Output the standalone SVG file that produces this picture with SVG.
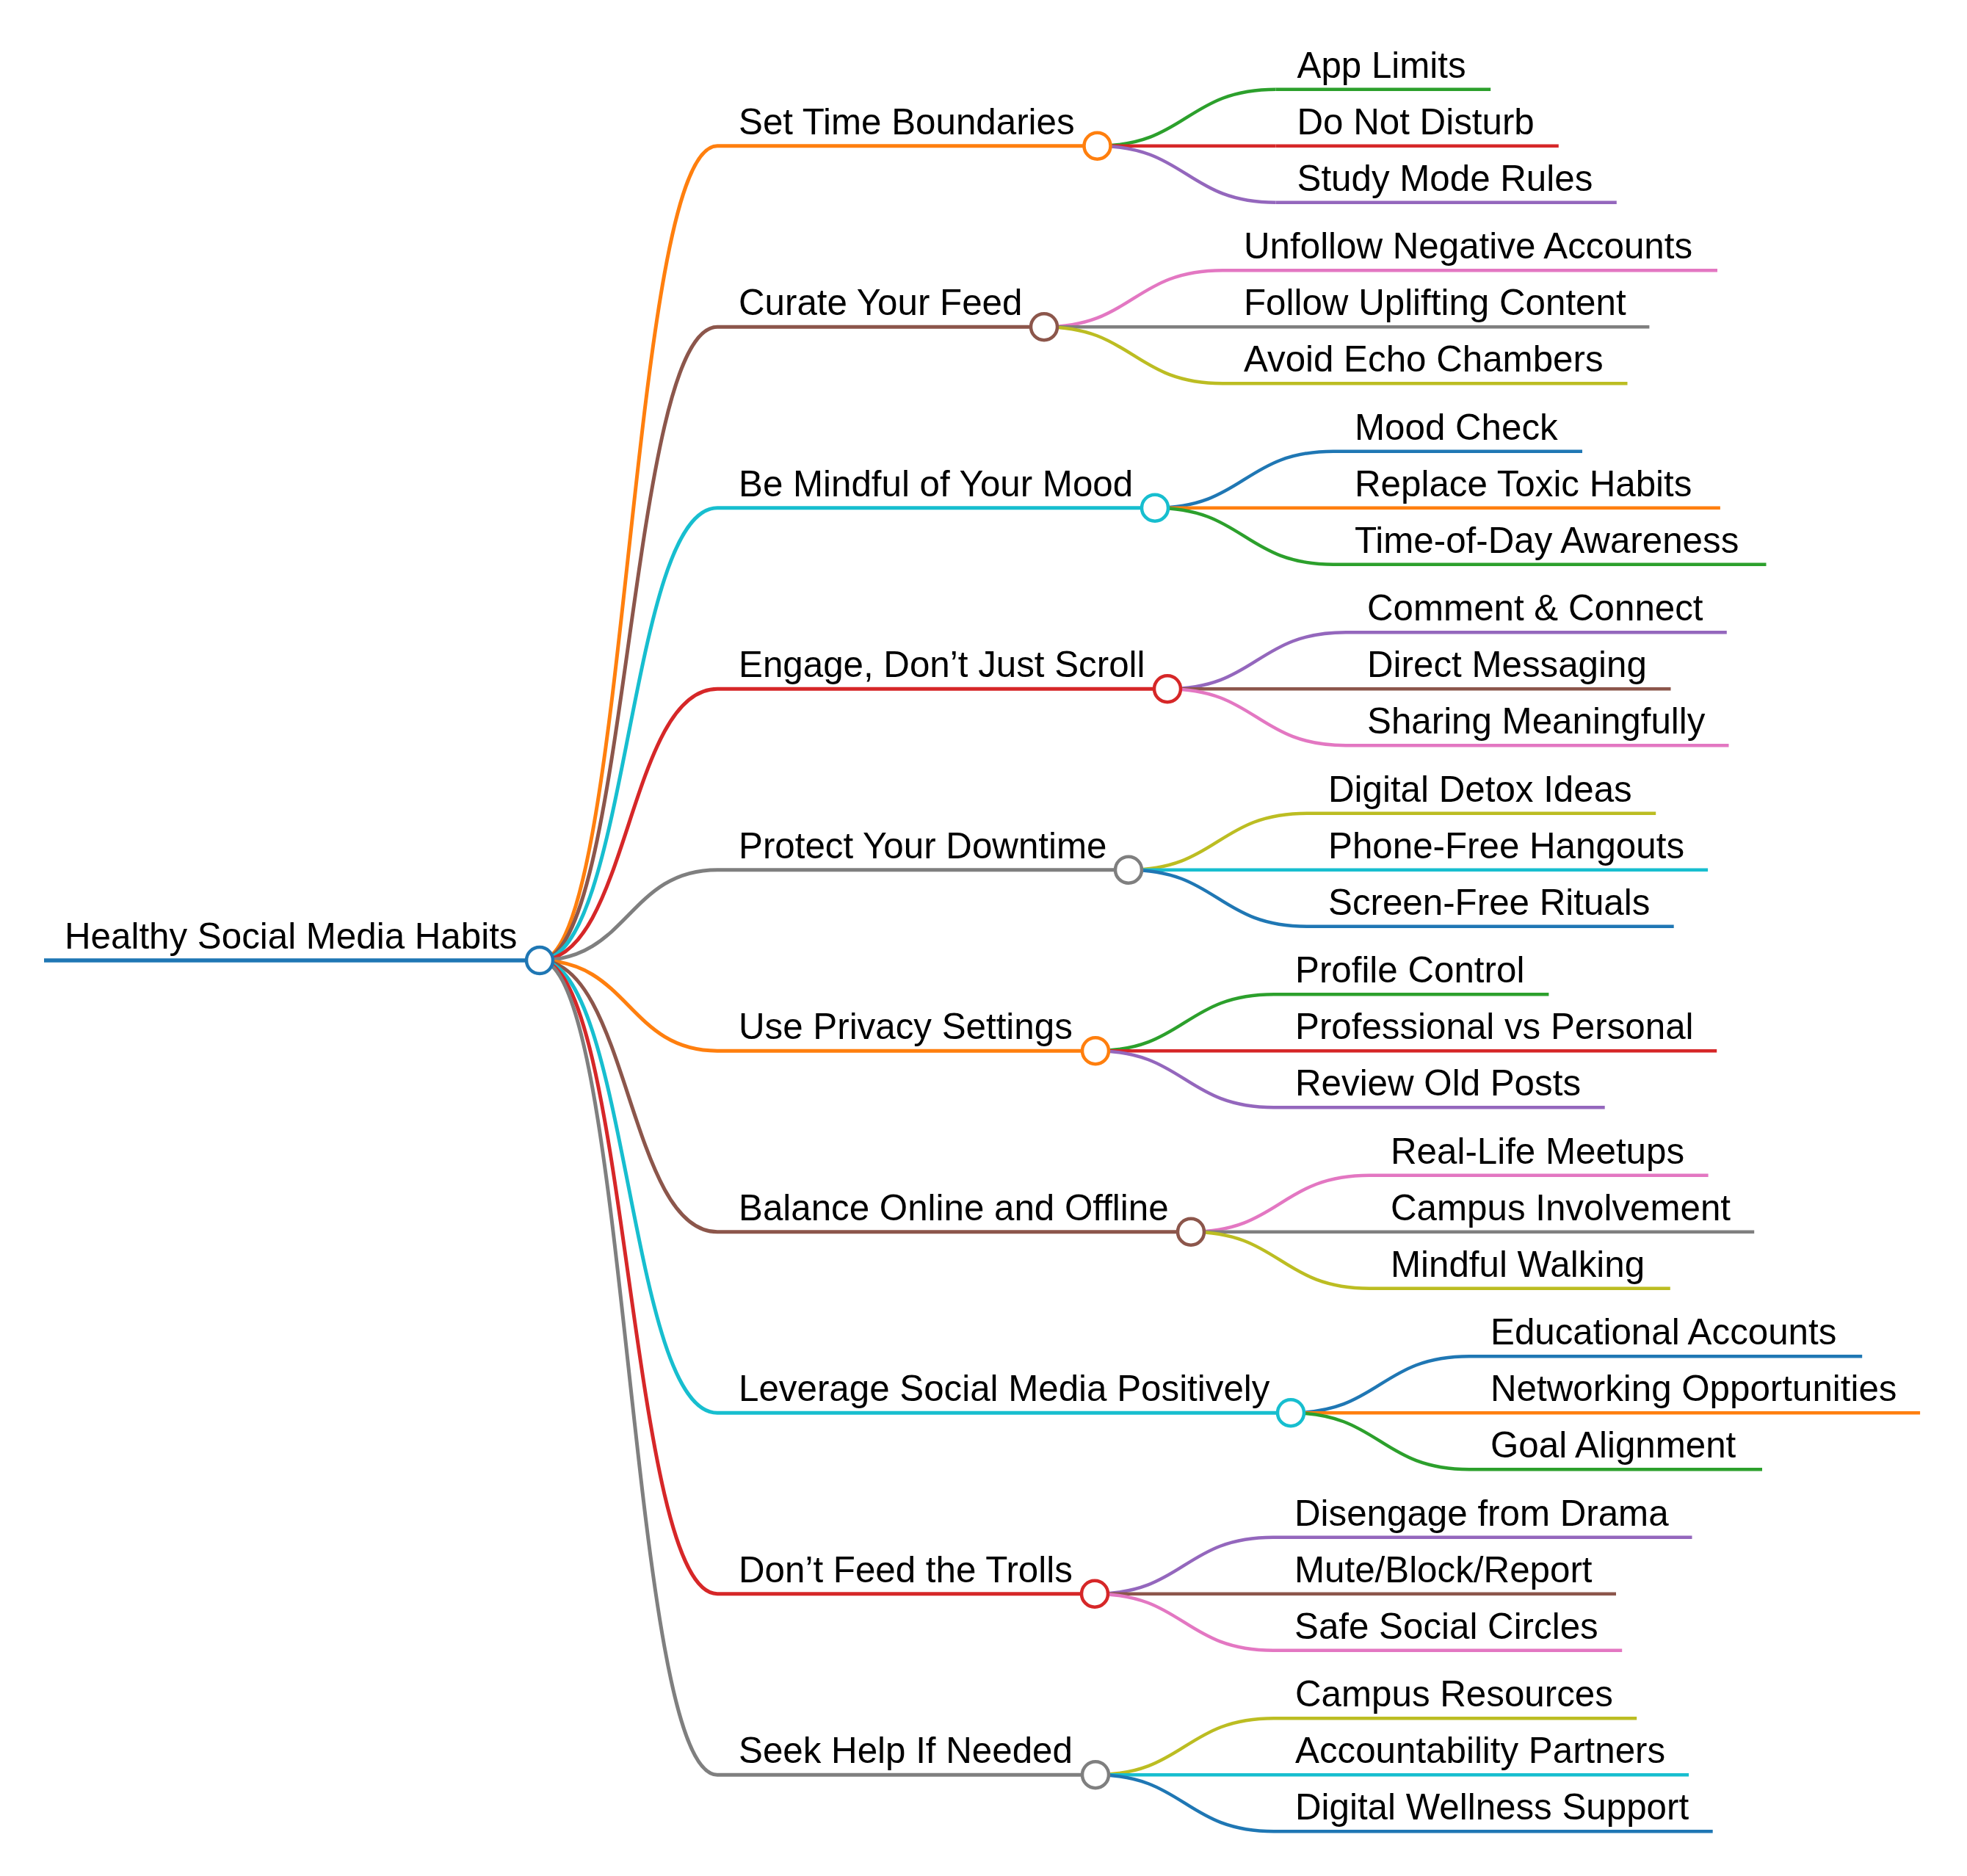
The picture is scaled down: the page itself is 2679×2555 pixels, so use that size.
<svg xmlns="http://www.w3.org/2000/svg" width="2679" height="2555" viewBox="0 0 2679 2555">
<style>
text{font-family:"Liberation Sans",Arial,sans-serif;font-size:49.3px;fill:#000}
path,line{fill:none;stroke-linecap:butt}
.l0{stroke-width:5.5}
.l1{stroke-width:5}
.l2{stroke-width:4.5}
circle{fill:#fff;stroke-width:4.5}
.k0{stroke:#1f77b4}.k1{stroke:#ff7f0e}.k2{stroke:#2ca02c}.k3{stroke:#d62728}.k4{stroke:#9467bd}
.k5{stroke:#8c564b}.k6{stroke:#e377c2}.k7{stroke:#7f7f7f}.k8{stroke:#bcbd22}.k9{stroke:#17becf}
</style>
<rect width="2679" height="2555" fill="#fff"/>
<g id="connectors">
<path class="l1 k1" d="M735,1308 C856,1308 856,198.7 977,198.7"/>
<path class="l1 k5" d="M735,1308 C856,1308 856,445.2 977,445.2"/>
<path class="l1 k9" d="M735,1308 C856,1308 856,691.7 977,691.7"/>
<path class="l1 k3" d="M735,1308 C856,1308 856,938.2 977,938.2"/>
<path class="l1 k7" d="M735,1308 C856,1308 856,1184.7 977,1184.7"/>
<path class="l1 k1" d="M735,1308 C856,1308 856,1431.2 977,1431.2"/>
<path class="l1 k5" d="M735,1308 C856,1308 856,1677.7 977,1677.7"/>
<path class="l1 k9" d="M735,1308 C856,1308 856,1924.2 977,1924.2"/>
<path class="l1 k3" d="M735,1308 C856,1308 856,2170.7 977,2170.7"/>
<path class="l1 k7" d="M735,1308 C856,1308 856,2417.2 977,2417.2"/>

<path class="l2 k2" d="M1494.5,198.7 C1616,198.7 1616,121.7 1737.5,121.7"/>
<path class="l2 k3" d="M1494.5,198.7 L1737.5,198.7"/>
<path class="l2 k4" d="M1494.5,198.7 C1616,198.7 1616,275.7 1737.5,275.7"/>

<path class="l2 k6" d="M1422,445.2 C1543.5,445.2 1543.5,368.2 1665,368.2"/>
<path class="l2 k7" d="M1422,445.2 L1665,445.2"/>
<path class="l2 k8" d="M1422,445.2 C1543.5,445.2 1543.5,522.2 1665,522.2"/>

<path class="l2 k0" d="M1573,691.7 C1694.5,691.7 1694.5,614.7 1816,614.7"/>
<path class="l2 k1" d="M1573,691.7 L1816,691.7"/>
<path class="l2 k2" d="M1573,691.7 C1694.5,691.7 1694.5,768.7 1816,768.7"/>

<path class="l2 k4" d="M1590,938.2 C1711.5,938.2 1711.5,861.2 1833,861.2"/>
<path class="l2 k5" d="M1590,938.2 L1833,938.2"/>
<path class="l2 k6" d="M1590,938.2 C1711.5,938.2 1711.5,1015.2 1833,1015.2"/>

<path class="l2 k8" d="M1537,1184.7 C1658.5,1184.7 1658.5,1107.7 1780,1107.7"/>
<path class="l2 k9" d="M1537,1184.7 L1780,1184.7"/>
<path class="l2 k0" d="M1537,1184.7 C1658.5,1184.7 1658.5,1261.7 1780,1261.7"/>

<path class="l2 k2" d="M1492,1431.2 C1613.5,1431.2 1613.5,1354.2 1735,1354.2"/>
<path class="l2 k3" d="M1492,1431.2 L1735,1431.2"/>
<path class="l2 k4" d="M1492,1431.2 C1613.5,1431.2 1613.5,1508.2 1735,1508.2"/>

<path class="l2 k6" d="M1622,1677.7 C1743.5,1677.7 1743.5,1600.7 1865,1600.7"/>
<path class="l2 k7" d="M1622,1677.7 L1865,1677.7"/>
<path class="l2 k8" d="M1622,1677.7 C1743.5,1677.7 1743.5,1754.7 1865,1754.7"/>

<path class="l2 k0" d="M1758,1924.2 C1879.5,1924.2 1879.5,1847.2 2001,1847.2"/>
<path class="l2 k1" d="M1758,1924.2 L2001,1924.2"/>
<path class="l2 k2" d="M1758,1924.2 C1879.5,1924.2 1879.5,2001.2 2001,2001.2"/>

<path class="l2 k4" d="M1491,2170.7 C1612.5,2170.7 1612.5,2093.7 1734,2093.7"/>
<path class="l2 k5" d="M1491,2170.7 L1734,2170.7"/>
<path class="l2 k6" d="M1491,2170.7 C1612.5,2170.7 1612.5,2247.7 1734,2247.7"/>

<path class="l2 k8" d="M1492,2417.2 C1613.5,2417.2 1613.5,2340.2 1735,2340.2"/>
<path class="l2 k9" d="M1492,2417.2 L1735,2417.2"/>
<path class="l2 k0" d="M1492,2417.2 C1613.5,2417.2 1613.5,2494.2 1735,2494.2"/>
</g>

<g id="node-root"><line class="l0 k0" x1="60" y1="1308" x2="735" y2="1308"/><circle class="k0" cx="735" cy="1308" r="18"/><text x="88" y="1292">Healthy Social Media Habits</text></g>

<g id="node-1"><line class="l1 k1" x1="977" y1="198.7" x2="1494.5" y2="198.7"/><circle class="k1" cx="1494.5" cy="198.7" r="18"/><text x="1006" y="182.7">Set Time Boundaries</text></g>
<g id="node-1-1"><line class="l2 k2" x1="1737.5" y1="121.7" x2="2030.2" y2="121.7"/><text x="1766.5" y="105.7">App Limits</text></g>
<g id="node-1-2"><line class="l2 k3" x1="1737.5" y1="198.7" x2="2122.8" y2="198.7"/><text x="1766.5" y="182.7">Do Not Disturb</text></g>
<g id="node-1-3"><line class="l2 k4" x1="1737.5" y1="275.7" x2="2201.8" y2="275.7"/><text x="1766.5" y="259.7">Study Mode Rules</text></g>

<g id="node-2"><line class="l1 k5" x1="977" y1="445.2" x2="1422" y2="445.2"/><circle class="k5" cx="1422" cy="445.2" r="18"/><text x="1006" y="429.2">Curate Your Feed</text></g>
<g id="node-2-1"><line class="l2 k6" x1="1665" y1="368.2" x2="2339" y2="368.2"/><text x="1694" y="352.2">Unfollow Negative Accounts</text></g>
<g id="node-2-2"><line class="l2 k7" x1="1665" y1="445.2" x2="2246.4" y2="445.2"/><text x="1694" y="429.2">Follow Uplifting Content</text></g>
<g id="node-2-3"><line class="l2 k8" x1="1665" y1="522.2" x2="2216.5" y2="522.2"/><text x="1694" y="506.2">Avoid Echo Chambers</text></g>

<g id="node-3"><line class="l1 k9" x1="977" y1="691.7" x2="1573" y2="691.7"/><circle class="k9" cx="1573" cy="691.7" r="18"/><text x="1006" y="675.7">Be Mindful of Your Mood</text></g>
<g id="node-3-1"><line class="l2 k0" x1="1816" y1="614.7" x2="2155" y2="614.7"/><text x="1845" y="598.7">Mood Check</text></g>
<g id="node-3-2"><line class="l2 k1" x1="1816" y1="691.7" x2="2342.9" y2="691.7"/><text x="1845" y="675.7">Replace Toxic Habits</text></g>
<g id="node-3-3"><line class="l2 k2" x1="1816" y1="768.7" x2="2405.5" y2="768.7"/><text x="1845" y="752.7">Time-of-Day Awareness</text></g>

<g id="node-4"><line class="l1 k3" x1="977" y1="938.2" x2="1590" y2="938.2"/><circle class="k3" cx="1590" cy="938.2" r="18"/><text x="1006" y="922.2">Engage, Don’t Just Scroll</text></g>
<g id="node-4-1"><line class="l2 k4" x1="1833" y1="861.2" x2="2351.8" y2="861.2"/><text x="1862" y="845.2">Comment &amp; Connect</text></g>
<g id="node-4-2"><line class="l2 k5" x1="1833" y1="938.2" x2="2275.5" y2="938.2"/><text x="1862" y="922.2">Direct Messaging</text></g>
<g id="node-4-3"><line class="l2 k6" x1="1833" y1="1015.2" x2="2354.5" y2="1015.2"/><text x="1862" y="999.2">Sharing Meaningfully</text></g>

<g id="node-5"><line class="l1 k7" x1="977" y1="1184.7" x2="1537" y2="1184.7"/><circle class="k7" cx="1537" cy="1184.7" r="18"/><text x="1006" y="1168.7">Protect Your Downtime</text></g>
<g id="node-5-1"><line class="l2 k8" x1="1780" y1="1107.7" x2="2255.2" y2="1107.7"/><text x="1809" y="1091.7">Digital Detox Ideas</text></g>
<g id="node-5-2"><line class="l2 k9" x1="1780" y1="1184.7" x2="2326.1" y2="1184.7"/><text x="1809" y="1168.7">Phone-Free Hangouts</text></g>
<g id="node-5-3"><line class="l2 k0" x1="1780" y1="1261.7" x2="2279.7" y2="1261.7"/><text x="1809" y="1245.7">Screen-Free Rituals</text></g>

<g id="node-6"><line class="l1 k1" x1="977" y1="1431.2" x2="1492" y2="1431.2"/><circle class="k1" cx="1492" cy="1431.2" r="18"/><text x="1006" y="1415.2">Use Privacy Settings</text></g>
<g id="node-6-1"><line class="l2 k2" x1="1735" y1="1354.2" x2="2109.4" y2="1354.2"/><text x="1764" y="1338.2">Profile Control</text></g>
<g id="node-6-2"><line class="l2 k3" x1="1735" y1="1431.2" x2="2338.2" y2="1431.2"/><text x="1764" y="1415.2">Professional vs Personal</text></g>
<g id="node-6-3"><line class="l2 k4" x1="1735" y1="1508.2" x2="2185.7" y2="1508.2"/><text x="1764" y="1492.2">Review Old Posts</text></g>

<g id="node-7"><line class="l1 k5" x1="977" y1="1677.7" x2="1622" y2="1677.7"/><circle class="k5" cx="1622" cy="1677.7" r="18"/><text x="1006" y="1661.7">Balance Online and Offline</text></g>
<g id="node-7-1"><line class="l2 k6" x1="1865" y1="1600.7" x2="2326.6" y2="1600.7"/><text x="1894" y="1584.7">Real-Life Meetups</text></g>
<g id="node-7-2"><line class="l2 k7" x1="1865" y1="1677.7" x2="2389.2" y2="1677.7"/><text x="1894" y="1661.7">Campus Involvement</text></g>
<g id="node-7-3"><line class="l2 k8" x1="1865" y1="1754.7" x2="2274.8" y2="1754.7"/><text x="1894" y="1738.7">Mindful Walking</text></g>

<g id="node-8"><line class="l1 k9" x1="977" y1="1924.2" x2="1758" y2="1924.2"/><circle class="k9" cx="1758" cy="1924.2" r="18"/><text x="1006" y="1908.2">Leverage Social Media Positively</text></g>
<g id="node-8-1"><line class="l2 k0" x1="2001" y1="1847.2" x2="2536.2" y2="1847.2"/><text x="2030" y="1831.2">Educational Accounts</text></g>
<g id="node-8-2"><line class="l2 k1" x1="2001" y1="1924.2" x2="2615.1" y2="1924.2"/><text x="2030" y="1908.2">Networking Opportunities</text></g>
<g id="node-8-3"><line class="l2 k2" x1="2001" y1="2001.2" x2="2400" y2="2001.2"/><text x="2030" y="1985.2">Goal Alignment</text></g>

<g id="node-9"><line class="l1 k3" x1="977" y1="2170.7" x2="1491" y2="2170.7"/><circle class="k3" cx="1491" cy="2170.7" r="18"/><text x="1006" y="2154.7">Don’t Feed the Trolls</text></g>
<g id="node-9-1"><line class="l2 k4" x1="1734" y1="2093.7" x2="2304.5" y2="2093.7"/><text x="1763" y="2077.7">Disengage from Drama</text></g>
<g id="node-9-2"><line class="l2 k5" x1="1734" y1="2170.7" x2="2201" y2="2170.7"/><text x="1763" y="2154.7">Mute/Block/Report</text></g>
<g id="node-9-3"><line class="l2 k6" x1="1734" y1="2247.7" x2="2209.2" y2="2247.7"/><text x="1763" y="2231.7">Safe Social Circles</text></g>

<g id="node-10"><line class="l1 k7" x1="977" y1="2417.2" x2="1492" y2="2417.2"/><circle class="k7" cx="1492" cy="2417.2" r="18"/><text x="1006" y="2401.2">Seek Help If Needed</text></g>
<g id="node-10-1"><line class="l2 k8" x1="1735" y1="2340.2" x2="2229.2" y2="2340.2"/><text x="1764" y="2324.2">Campus Resources</text></g>
<g id="node-10-2"><line class="l2 k9" x1="1735" y1="2417.2" x2="2300.1" y2="2417.2"/><text x="1764" y="2401.2">Accountability Partners</text></g>
<g id="node-10-3"><line class="l2 k0" x1="1735" y1="2494.2" x2="2332.7" y2="2494.2"/><text x="1764" y="2478.2">Digital Wellness Support</text></g>
</svg>
